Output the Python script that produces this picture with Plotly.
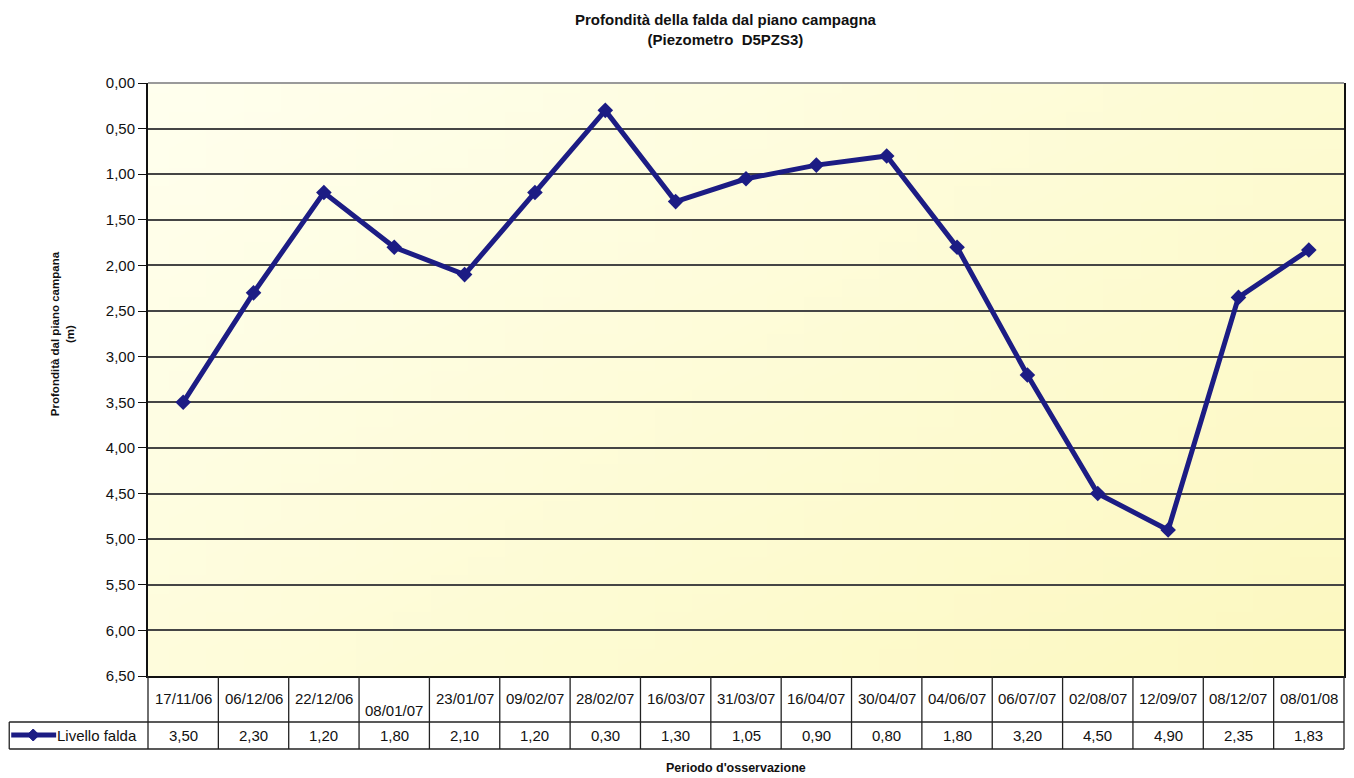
import base64
import struct
import zlib

import plotly.graph_objects as go

# === Data ===
date_labels = ["17/11/06", "06/12/06", "22/12/06", "08/01/07", "23/01/07", "09/02/07",
               "28/02/07", "16/03/07", "31/03/07", "16/04/07", "30/04/07", "04/06/07",
               "06/07/07", "02/08/07", "12/09/07", "08/12/07", "08/01/08"]
livello_falda = [3.50, 2.30, 1.20, 1.80, 2.10, 1.20, 0.30, 1.30, 1.05, 0.90,
                 0.80, 1.80, 3.20, 4.50, 4.90, 2.35, 1.83]
y_ticks = [0.0, 0.5, 1.0, 1.5, 2.0, 2.5, 3.0, 3.5, 4.0, 4.5, 5.0, 5.5, 6.0, 6.5]

FONT = "Liberation Sans, Arial, sans-serif"
LINE_COLOR = "#1c1c84"
GRID = "#454545"

# page has an 8px body margin, so the figure is 8px smaller than the window
OFF = 8
W, H = 1354 - OFF, 778 - OFF
L, R, T, B = 148 - OFF, 8, 83 - OFF, 102
plot_w = W - L - R
plot_h = H - T - B


def px_x(x):
    # screen pixel -> paper x
    return (x - OFF - L) / plot_w


def px_y(y):
    # screen pixel -> paper y
    return (H - B - (y - OFF)) / plot_h


def gradient_png(w, h, c0, c1):
    # small diagonal gradient, stretched over the plot area
    raw = b""
    for j in range(h):
        raw += b"\x00"
        for i in range(w):
            t = (i / (w - 1) * 0.6 + j / (h - 1) * 0.4)
            raw += bytes(round(a + (b - a) * t) for a, b in zip(c0, c1))

    def chunk(tag, data):
        return (struct.pack(">I", len(data)) + tag + data
                + struct.pack(">I", zlib.crc32(tag + data) & 0xffffffff))

    png = (b"\x89PNG\r\n\x1a\n"
           + chunk(b"IHDR", struct.pack(">IIBBBBB", w, h, 8, 2, 0, 0, 0))
           + chunk(b"IDAT", zlib.compress(raw))
           + chunk(b"IEND", b""))
    return "data:image/png;base64," + base64.b64encode(png).decode()


fig = go.Figure()

fig.add_trace(go.Scatter(
    x=date_labels,
    y=livello_falda,
    mode="lines+markers",
    name="Livello falda",
    line=dict(color=LINE_COLOR, width=5),
    marker=dict(symbol="diamond", size=12, color=LINE_COLOR),
    hovertemplate="%{x}<br>%{y:.2f} m<extra></extra>",
    showlegend=False,
))

# --- table under the plot (dates + values) ---
n = len(date_labels)
row_mid = px_y(722)
row_bot = px_y(749)
leg_left = px_x(9)

shapes = []
for i in range(n + 1):
    shapes.append(dict(type="line", xref="paper", yref="paper",
                       x0=i / n, x1=i / n, y0=0, y1=row_bot,
                       line=dict(color="#222", width=1.3)))
shapes.append(dict(type="line", xref="paper", yref="paper",
                   x0=leg_left, x1=leg_left, y0=row_mid, y1=row_bot,
                   line=dict(color="#222", width=1.3)))
for yy in (row_mid, row_bot):
    shapes.append(dict(type="line", xref="paper", yref="paper",
                       x0=leg_left, x1=1, y0=yy, y1=yy,
                       line=dict(color="#222", width=1.3)))
# grey top border of the plot area
shapes.append(dict(type="line", xref="paper", yref="paper", layer="above",
                   x0=0, x1=1, y0=1, y1=1, line=dict(color="#9a9a9a", width=2)))

# legend key drawn inside the first table cell
ly = px_y(735)
shapes.append(dict(type="line", xref="paper", yref="paper",
                   x0=px_x(11), x1=px_x(56), y0=ly, y1=ly,
                   line=dict(color=LINE_COLOR, width=5)))
cx, dx, dy = px_x(33), 6 / plot_w, 6 / plot_h
shapes.append(dict(type="path", xref="paper", yref="paper",
                   path=f"M {cx - dx} {ly} L {cx} {ly + dy} L {cx + dx} {ly} L {cx} {ly - dy} Z",
                   fillcolor=LINE_COLOR, line=dict(color=LINE_COLOR, width=1)))

annotations = []
for d, v in zip(date_labels, livello_falda):
    # Excel drops the one label that did not wrap
    ypos = px_y(710) if d == "08/01/07" else px_y(698)
    annotations.append(dict(x=d, y=ypos, xref="x", yref="paper", text=d,
                            xanchor="center", yanchor="middle",
                            showarrow=False, font=dict(size=15, color="#111")))
    annotations.append(dict(x=d, y=px_y(735), xref="x", yref="paper",
                            text=f"{v:.2f}".replace(".", ","),
                            xanchor="center", yanchor="middle",
                            showarrow=False, font=dict(size=15, color="#111")))

annotations.append(dict(x=px_x(55), y=ly, xref="paper", yref="paper",
                        xanchor="left", yanchor="middle", text="Livello falda",
                        showarrow=False, font=dict(size=15, color="#111")))
annotations.append(dict(
    x=px_x(727), y=px_y(9), xref="paper", yref="paper",
    xanchor="center", yanchor="top",
    text="<b>Profondità della falda dal piano campagna<br>(Piezometro  D5PZS3)</b>",
    showarrow=False, font=dict(size=15, color="#111")))
annotations.append(dict(
    x=px_x(737), y=px_y(768), xref="paper", yref="paper",
    xanchor="center", yanchor="middle",
    text="<b>Periodo d'osservazione</b>", showarrow=False,
    font=dict(size=12.5, color="#111")))
annotations.append(dict(
    x=px_x(62), y=px_y(334), xref="paper", yref="paper", textangle=-90,
    xanchor="center", yanchor="middle",
    text="<b>Profondità dal piano campana<br>(m)</b>", showarrow=False,
    font=dict(size=11.5, color="#111")))

fig.update_layout(
    width=W, height=H,
    margin=dict(l=L, r=R, t=T, b=B),
    paper_bgcolor="white",
    plot_bgcolor="rgba(0,0,0,0)",
    font=dict(family=FONT, color="#111"),
    separators=",.",
    showlegend=False,
    shapes=shapes,
    annotations=annotations,
    images=[dict(source=gradient_png(32, 32, (255, 255, 238), (252, 248, 192)),
                 xref="paper", yref="paper", x=0, y=1, sizex=1, sizey=1,
                 xanchor="left", yanchor="top", sizing="stretch", layer="below")],
    xaxis=dict(type="category", range=[-0.5, n - 0.5], showticklabels=False,
               showgrid=False, ticks="", showline=True, linecolor="#111",
               linewidth=1.5, zeroline=False, fixedrange=True),
    yaxis=dict(range=[6.5, 0], tickvals=y_ticks, tickformat=".2f",
               showgrid=True, gridcolor=GRID, gridwidth=1.5,
               ticks="outside", ticklen=8, tickcolor="#111", tickwidth=1.3,
               showline=True, linecolor="#111", linewidth=2, mirror=True,
               zeroline=False, tickfont=dict(size=15, color="#111"),
               fixedrange=True),
)

fig.write_html("out.html")
